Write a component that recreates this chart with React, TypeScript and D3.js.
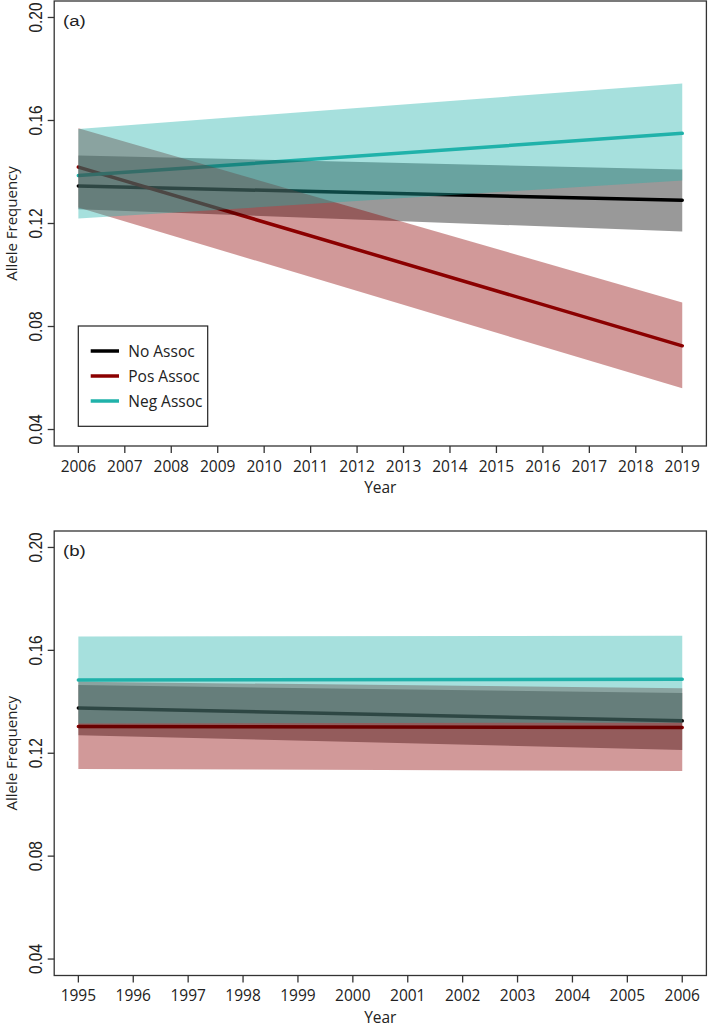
import React, { useEffect, useRef } from "react";
import * as d3 from "d3";

// series shared by both panels
const seriesNames = ["No Assoc", "Pos Assoc", "Neg Assoc"];
const seriesColors = ["#000000", "#8B0000", "#20B2AA"];

// y axis ticks (same on both panels)
const yTicks = [0.04, 0.08, 0.12, 0.16, 0.2];
const yLimits = [0.04, 0.2];

// panel (a): 2006 - 2019
const yearsA = [2006, 2019];
const tickYearsA = [2006, 2007, 2008, 2009, 2010, 2011, 2012, 2013, 2014, 2015, 2016, 2017, 2018, 2019];
const fitA = [
  [0.1346, 0.129],
  [0.1419, 0.0725],
  [0.1386, 0.155],
];
const lowerA = [
  [0.1255, 0.1169],
  [0.1262, 0.056],
  [0.1219, 0.1367],
];
const upperA = [
  [0.1464, 0.141],
  [0.157, 0.0893],
  [0.1567, 0.1744],
];

// panel (b): 1995 - 2006
const yearsB = [1995, 2006];
const tickYearsB = [1995, 1996, 1997, 1998, 1999, 2000, 2001, 2002, 2003, 2004, 2005, 2006];
const fitB = [
  [0.1376, 0.1326],
  [0.1304, 0.13],
  [0.1485, 0.1488],
];
const lowerB = [
  [0.127, 0.1213],
  [0.1139, 0.1131],
  [0.1316, 0.1319],
];
const upperB = [
  [0.1465, 0.1434],
  [0.1478, 0.1453],
  [0.1654, 0.1657],
];

const W = 709;
const H = 1028;
const plotLeft = 54.2;
const plotRight = 706.4;
const sansR = "'Liberation Sans', Arial, sans-serif";
const sansC = "'Open Sans', 'Noto Sans', sans-serif";

const App = () => {
  const ref: any = useRef();

  useEffect(() => {
    const svg = d3.select(ref.current);
    svg.selectAll("*").remove();

    const drawPanel = (
      top: number,
      bottom: number,
      years: number[],
      tickYears: number[],
      fit: number[][],
      lower: number[][],
      upper: number[][],
      label: string,
      legend: boolean
    ) => {
      const g = svg.append("g");

      // R style axes: 4% padding on each side
      const xSpan = years[1] - years[0];
      const xScale = d3
        .scaleLinear()
        .domain([years[0] - 0.04 * xSpan, years[1] + 0.04 * xSpan])
        .range([plotLeft, plotRight]);
      const ySpan = yLimits[1] - yLimits[0];
      const yScale = d3
        .scaleLinear()
        .domain([yLimits[0] - 0.04 * ySpan, yLimits[1] + 0.04 * ySpan])
        .range([bottom, top]);

      // lines go underneath the bands
      const line = d3
        .line<number>()
        .x((_d, i) => xScale(years[i]))
        .y((d) => yScale(d));

      fit.forEach((f, s) => {
        g.append("path")
          .attr("d", line(f) as string)
          .attr("fill", "none")
          .attr("stroke", seriesColors[s])
          .attr("stroke-width", 3.5)
          .attr("stroke-linecap", "round");
      });

      fit.forEach((f, s) => {
        const area = d3
          .area<number>()
          .x((_d, i) => xScale(years[i]))
          .y0((_d, i) => yScale(lower[s][i]))
          .y1((_d, i) => yScale(upper[s][i]));
        g.append("path")
          .attr("d", area(f) as string)
          .attr("fill", seriesColors[s])
          .attr("fill-opacity", 0.4)
          .attr("stroke", "none");
      });

      // box
      g.append("rect")
        .attr("x", plotLeft)
        .attr("y", top)
        .attr("width", plotRight - plotLeft)
        .attr("height", bottom - top)
        .attr("fill", "none")
        .attr("stroke", "#333")
        .attr("stroke-width", 1.3);

      // y axis
      yTicks.forEach((t) => {
        const y = yScale(t);
        g.append("line")
          .attr("x1", plotLeft)
          .attr("x2", plotLeft - 6.5)
          .attr("y1", y)
          .attr("y2", y)
          .attr("stroke", "#333")
          .attr("stroke-width", 1.3);
        g.append("text")
          .attr("transform", `translate(41.5, ${y}) scale(1.2, 1) rotate(-90)`)
          .attr("text-anchor", "middle")
          .attr("font-family", sansR)
          .attr("font-size", 15.5)
          .attr("fill", "#222")
          .text(t.toFixed(2));
      });

      // x axis
      tickYears.forEach((t) => {
        const x = xScale(t);
        g.append("line")
          .attr("x1", x)
          .attr("x2", x)
          .attr("y1", bottom)
          .attr("y2", bottom + 7)
          .attr("stroke", "#333")
          .attr("stroke-width", 1.3);
        g.append("text")
          .attr("x", x)
          .attr("y", bottom + 25.5)
          .attr("text-anchor", "middle")
          .attr("font-family", sansC)
          .attr("font-size", 15.5)
          .attr("fill", "#222")
          .text(String(t));
      });

      // axis titles
      g.append("text")
        .attr("x", (plotLeft + plotRight) / 2)
        .attr("y", bottom + 47)
        .attr("text-anchor", "middle")
        .attr("font-family", sansC)
        .attr("font-size", 15.5)
        .attr("fill", "#222")
        .text("Year");

      g.append("text")
        .attr("transform", `translate(17, ${(top + bottom) / 2}) rotate(-90)`)
        .attr("text-anchor", "middle")
        .attr("font-family", sansC)
        .attr("font-size", 15)
        .attr("fill", "#222")
        .text("Allele Frequency");

      // panel label
      g.append("text")
        .attr("transform", `translate(63, ${top + 25}) scale(1.2, 1)`)
        .attr("font-family", sansR)
        .attr("font-size", 15.5)
        .attr("fill", "#222")
        .text(label);

      if (legend) {
        const lg = g.append("g");
        lg.append("rect")
          .attr("x", 78.3)
          .attr("y", 326)
          .attr("width", 129.4)
          .attr("height", 100.3)
          .attr("fill", "white")
          .attr("stroke", "#222")
          .attr("stroke-width", 1.2);
        seriesNames.forEach((name, i) => {
          const y = 351 + i * 25;
          lg.append("line")
            .attr("x1", 90.7)
            .attr("x2", 119)
            .attr("y1", y)
            .attr("y2", y)
            .attr("stroke", seriesColors[i])
            .attr("stroke-width", 3.5);
          lg.append("text")
            .attr("x", 128.3)
            .attr("y", y + 5.5)
            .attr("font-family", sansC)
            .attr("font-size", 15.5)
            .attr("fill", "#222")
            .text(name);
        });
      }
    };

    drawPanel(1, 446, yearsA, tickYearsA, fitA, lowerA, upperA, "(a)", true);
    drawPanel(531, 975.5, yearsB, tickYearsB, fitB, lowerB, upperB, "(b)", false);
  }, []);

  return (
    <div style={{ position: "absolute", left: 0, top: 0 }}>
      <svg ref={ref} width={W} height={H} style={{ display: "block", background: "white" }}></svg>
    </div>
  );
};

export default App;
